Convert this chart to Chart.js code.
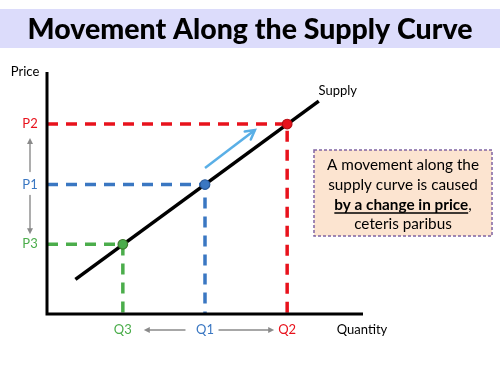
<!DOCTYPE html>
<html><head><meta charset="utf-8">
<script src="https://cdn.jsdelivr.net/npm/chart.js@4"></script>
<style>html,body{margin:0;padding:0;background:#fff}#wrap{width:500px;height:374px}</style>
</head><body><div id="wrap"><canvas id="c" width="500" height="374"></canvas></div>
<script>
// ---- data ----
const titleText = 'Movement Along the Supply Curve';
const xAxisLabel = 'Quantity';
const yAxisLabel = 'Price';
const curveLabel = 'Supply';
const qLabels = ['Q3', 'Q1', 'Q2'];
const pLabels = ['P3', 'P1', 'P2'];
const qValues = [2.4, 5.0, 7.6];
const pValues = [2.88, 5.35, 7.85];
const supplyQ = [0.9, 8.6];
const supplyP = [1.43, 8.8];
const moveQ = [5.0, 6.58];
const moveP = [6.03, 7.6];
const noteLines = ['A movement along the', 'supply curve is caused', 'by a change in price', 'ceteris paribus'];

// ---- styles ----
const levelColors = ['#4bad4b', '#3a77c2', '#e8121c'];
const dotBorders = ['#3e7a2c', '#2a5a9a', '#b80c12'];
const FONT = 'Lato, "Open Sans", sans-serif';

const datasets = [];
qValues.forEach((q, i) => {
  datasets.push({
    data: [{x: 0, y: pValues[i]}, {x: q, y: pValues[i]}, {x: q, y: 0}],
    showLine: true, borderColor: levelColors[i], borderWidth: 3.5,
    borderDash: [11, 8], pointRadius: 0, order: 4, clip: false, tension: 0
  });
});
datasets.push({
  data: supplyQ.map((q, i) => ({x: q, y: supplyP[i]})),
  showLine: true, borderColor: '#000', borderWidth: 3.5, pointRadius: 0, order: 2, clip: false,
  borderCapStyle: 'butt'
});
datasets.push({
  data: moveQ.map((q, i) => ({x: q, y: moveP[i]})),
  showLine: true, borderColor: '#5aafe6', borderWidth: 2.5, pointRadius: 0, order: 2, clip: false
});
datasets.push({
  data: qValues.map((q, i) => ({x: q, y: pValues[i]})),
  showLine: false, pointRadius: 4.8, pointBackgroundColor: levelColors, pointBorderColor: dotBorders,
  pointBorderWidth: 1.2, order: 1, clip: false
});
const MOVE_INDEX = datasets.length - 2;

function arrowHead(ctx, x1, y1, x2, y2, len, half, filled) {
  const a = Math.atan2(y2 - y1, x2 - x1);
  const bx = x2 - len * Math.cos(a), by = y2 - len * Math.sin(a);
  const px = -Math.sin(a) * half, py = Math.cos(a) * half;
  ctx.beginPath();
  ctx.moveTo(bx + px, by + py);
  ctx.lineTo(x2, y2);
  ctx.lineTo(bx - px, by - py);
  if (filled) { ctx.closePath(); ctx.fill(); } else { ctx.stroke(); }
}
function greyArrow(ctx, x1, y1, x2, y2) {
  ctx.save();
  ctx.strokeStyle = '#8a8a8a'; ctx.fillStyle = '#8a8a8a'; ctx.lineWidth = 1.4;
  const a = Math.atan2(y2 - y1, x2 - x1);
  ctx.beginPath(); ctx.moveTo(x1, y1); ctx.lineTo(x2 - 4 * Math.cos(a), y2 - 4 * Math.sin(a)); ctx.stroke();
  arrowHead(ctx, x1, y1, x2, y2, 6, 3, true);
  ctx.restore();
}

const decor = {
  id: 'decor',
  beforeDraw(chart) {
    const ctx = chart.ctx;
    ctx.save();
    ctx.fillStyle = '#fff'; ctx.fillRect(0, 0, chart.width, chart.height);
    ctx.fillStyle = '#dcdcfb'; ctx.fillRect(0, 9, chart.width, 39);
    ctx.fillStyle = '#000'; ctx.font = '900 28.5px ' + FONT;
    ctx.textAlign = 'center'; ctx.textBaseline = 'middle';
    ctx.fillText(titleText, chart.width / 2, 30);
    ctx.restore();
  },
  afterDatasetsDraw(chart) {
    const ctx = chart.ctx, ca = chart.chartArea;
    const xs = chart.scales.x, ys = chart.scales.y;
    ctx.save();
    // axes
    ctx.strokeStyle = '#000'; ctx.lineWidth = 3; ctx.lineJoin = 'miter'; ctx.lineCap = 'butt';
    ctx.beginPath(); ctx.moveTo(ca.left, ca.top); ctx.lineTo(ca.left, ca.bottom); ctx.lineTo(ca.right, ca.bottom); ctx.stroke();

    // movement arrow head
    const mm = chart.getDatasetMeta(MOVE_INDEX).data;
    ctx.strokeStyle = '#5aafe6'; ctx.lineWidth = 2.5; ctx.lineCap = 'round';
    arrowHead(ctx, mm[0].x, mm[0].y, mm[1].x, mm[1].y, 9, 5, false);

    ctx.textAlign = 'center'; ctx.textBaseline = 'middle';
    ctx.font = '13px ' + FONT;
    // axis labels
    ctx.fillStyle = '#000';
    ctx.fillText(yAxisLabel, ca.left - 22, ca.top);
    ctx.fillText(xAxisLabel, ca.right - 1, ca.bottom + 16);
    const sEnd = chart.getDatasetMeta(qValues.length).data[1];
    ctx.fillText(curveLabel, sEnd.x + 19, sEnd.y - 10);

    // P and Q labels
    const labelX = ca.left - 17, labelY = ca.bottom + 16;
    qValues.forEach((q, i) => {
      ctx.fillStyle = levelColors[i];
      ctx.fillText(pLabels[i], labelX, ys.getPixelForValue(pValues[i]));
      ctx.fillText(qLabels[i], xs.getPixelForValue(q), labelY);
    });
    // grey arrows between labels (from P1 / Q1 towards others)
    const p1 = ys.getPixelForValue(pValues[1]);
    greyArrow(ctx, labelX, p1 - 13, labelX, ys.getPixelForValue(pValues[2]) + 14);
    greyArrow(ctx, labelX, p1 + 11, labelX, ys.getPixelForValue(pValues[0]) - 10);
    const q1 = xs.getPixelForValue(qValues[1]);
    greyArrow(ctx, q1 - 20, labelY, xs.getPixelForValue(qValues[0]) + 21, labelY);
    greyArrow(ctx, q1 + 14, labelY, xs.getPixelForValue(qValues[2]) - 13, labelY);

    // note box
    const bx = 314, by = 150, bw = 178, bh = 86;
    ctx.fillStyle = '#fce4d0'; ctx.fillRect(bx, by, bw, bh);
    ctx.strokeStyle = '#8064a2'; ctx.lineWidth = 1.5; ctx.setLineDash([3, 2]); ctx.lineCap = 'butt';
    ctx.strokeRect(bx, by, bw, bh);
    ctx.setLineDash([]);
    const cx = bx + bw / 2;
    const lineYs = [165, 185, 205, 224];
    const fs = '15.3px ';
    ctx.fillStyle = '#000';
    ctx.font = fs + FONT;
    ctx.fillText(noteLines[0], cx, lineYs[0]);
    ctx.fillText(noteLines[1], cx, lineYs[1]);
    ctx.fillText(noteLines[3], cx, lineYs[3]);
    // bold underlined line with trailing normal comma
    ctx.font = 'bold ' + fs + FONT;
    const wb = ctx.measureText(noteLines[2]).width;
    ctx.font = fs + FONT;
    const wc = ctx.measureText(',').width;
    const sx = cx - (wb + wc) / 2;
    ctx.textAlign = 'left';
    ctx.font = 'bold ' + fs + FONT;
    ctx.fillText(noteLines[2], sx, lineYs[2]);
    ctx.font = fs + FONT;
    ctx.fillText(',', sx + wb, lineYs[2]);
    ctx.strokeStyle = '#000'; ctx.lineWidth = 1.3;
    ctx.beginPath(); ctx.moveTo(sx, lineYs[2] + 8); ctx.lineTo(sx + wb, lineYs[2] + 8); ctx.stroke();
    ctx.restore();
  }
};

new Chart(document.getElementById('c'), {
  type: 'scatter',
  data: { datasets },
  options: {
    responsive: false, animation: false, events: [],
    layout: { padding: { left: 47, right: 137, top: 72, bottom: 60 } },
    scales: {
      x: { type: 'linear', min: 0, max: 10, display: false },
      y: { type: 'linear', min: 0, max: 10, display: false }
    },
    plugins: { legend: { display: false }, tooltip: { enabled: false }, title: { display: false } }
  },
  plugins: [decor]
});
</script>
</body></html>
